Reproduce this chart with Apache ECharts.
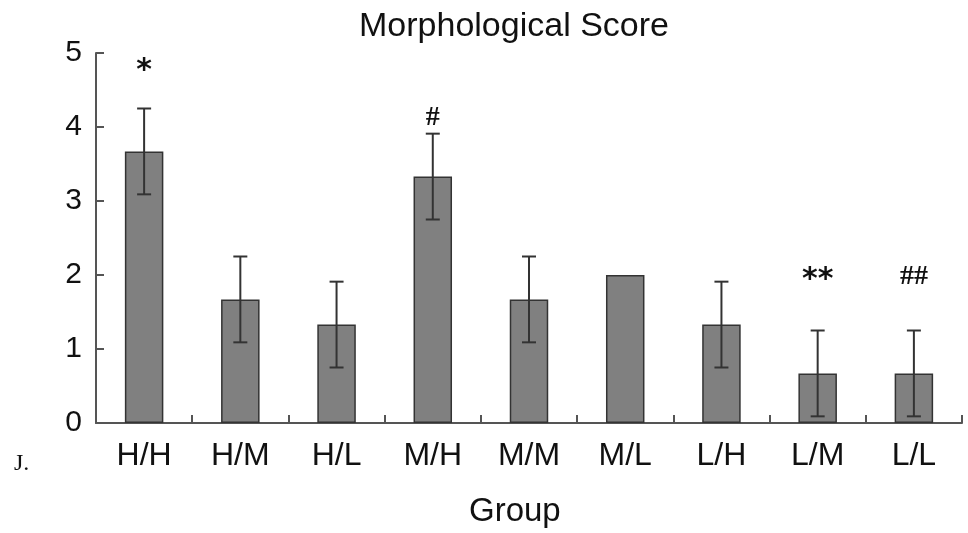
<!DOCTYPE html>
<html><head><meta charset="utf-8">
<script src="https://cdn.jsdelivr.net/npm/echarts@6/dist/echarts.min.js"></script>
<style>html,body{margin:0;padding:0;background:#fff}#c{width:968px;height:533px}</style>
</head><body><div id="c"></div>
<script>
var categories = ['H/H','H/M','H/L','M/H','M/M','M/L','L/H','L/M','L/L'];
var means = [3.67, 1.67, 1.33, 3.33, 1.67, 2.0, 1.33, 0.67, 0.67];
var sds = [0.58, 0.58, 0.58, 0.58, 0.58, 0, 0.58, 0.58, 0.58];
var marks = ['*', '', '', '#', '', '', '', '**', '##'];
var markLevels = [4.75, null, null, 4.12, null, null, null, 1.93, 1.98];
var yTicks = [0, 1, 2, 3, 4, 5];

var chart = echarts.init(document.getElementById('c'));
var errData = categories.map(function(c, i){ return [i, means[i] - sds[i], means[i] + sds[i]]; });
var markData = categories.map(function(c, i){ return [i, markLevels[i] == null ? 0 : markLevels[i], marks[i]]; });

chart.setOption({
  animation: false,
  title: { text: 'Morphological Score', left: 509, top: 5, textAlign: 'center',
    textStyle: { fontFamily: 'Liberation Sans', fontSize: 34, fontWeight: 'normal', color: '#111' } },
  grid: { left: 96, right: 6, top: 53, bottom: 110 },
  graphic: [
    { type: 'text', left: 14, top: 452, style: { text: 'J.', font: '24px "Liberation Serif"', fill: '#111' } },
    { type: 'text', left: 469, top: 495, style: { text: 'Group', font: '33px "Liberation Sans"', fill: '#111' } }
  ],
  xAxis: {
    type: 'category', data: categories,
    axisLine: { lineStyle: { color: '#555', width: 2 } },
    axisTick: { show: true, inside: true, length: 8, lineStyle: { color: '#555', width: 2 } },
    axisLabel: { fontFamily: 'Liberation Sans', fontSize: 32, color: '#111', margin: 17 }
  },
  yAxis: {
    type: 'value', min: 0, max: 5, interval: 1,
    axisLine: { show: true, lineStyle: { color: '#555', width: 2 } },
    axisTick: { show: true, inside: true, length: 8, lineStyle: { color: '#555', width: 2 } },
    splitLine: { show: false },
    axisLabel: { fontFamily: 'Liberation Sans', fontSize: 30, color: '#111', margin: 14,
      formatter: function(v){ return yTicks.indexOf(v) >= 0 ? String(v) : ''; } }
  },
  series: [
    { type: 'bar', data: means, barWidth: '40%',
      itemStyle: { color: '#808080', borderColor: '#333', borderWidth: 1.5 } },
    { type: 'custom', data: errData, z: 5,
      renderItem: function(params, api){
        var i = api.value(0), lo = api.value(1), hi = api.value(2);
        if (hi - lo <= 0) return null;
        var pLo = api.coord([i, lo]), pHi = api.coord([i, hi]);
        var cap = 7;
        var st = { stroke: '#333', lineWidth: 2 };
        return { type: 'group', children: [
          { type: 'line', shape: { x1: pLo[0], y1: pLo[1], x2: pHi[0], y2: pHi[1] }, style: st },
          { type: 'line', shape: { x1: pHi[0]-cap, y1: pHi[1], x2: pHi[0]+cap, y2: pHi[1] }, style: st },
          { type: 'line', shape: { x1: pLo[0]-cap, y1: pLo[1], x2: pLo[0]+cap, y2: pLo[1] }, style: st }
        ]};
      } },
    { type: 'custom', data: markData, z: 6,
      renderItem: function(params, api){
        var i = api.value(0), lv = api.value(1);
        var txt = marks[i];
        if (!txt) return null;
        var p = api.coord([i, lv]);
        var isStar = txt.indexOf('*') >= 0;
        return { type: 'text', x: p[0], y: p[1], style: { text: txt, textAlign: 'center', textVerticalAlign: 'middle',
          font: isStar ? 'bold 30px "DejaVu Sans"' : 'bold 28px "Liberation Serif"', fill: '#111' } };
      } }
  ]
});
</script></body></html>
